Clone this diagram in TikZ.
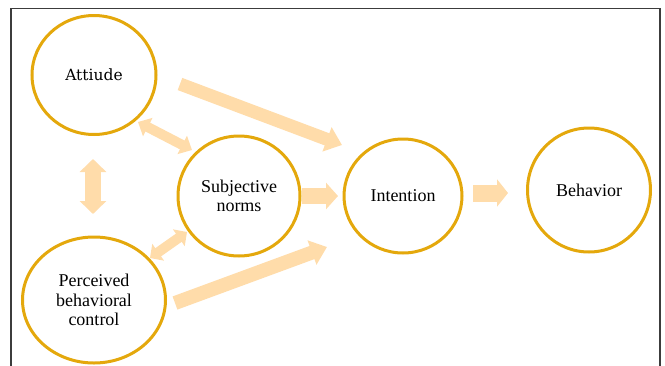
\documentclass[tikz,border=0pt]{standalone}
\usepackage{fontspec}
\setmainfont{Liberation Serif}
\newfontfamily\attfont{DejaVu Serif}
\usetikzlibrary{shapes.geometric,arrows.meta}
\definecolor{ringc}{RGB}{228,168,12}
\definecolor{arrowc}{RGB}{255,220,170}
\definecolor{framec}{RGB}{60,60,60}
\tikzset{
  ring/.style={ellipse, draw=ringc, line width=3pt, fill=white, inner sep=0pt, align=center,
    font=\fontsize{18}{19.5}\selectfont, text=black},
  fat/.style={draw=arrowc, line width=#1},
}
\begin{document}
\begin{tikzpicture}[x=1pt,y=-1pt]
\useasboundingbox (0,0) rectangle (665,365);
% frame
\draw[framec, line width=1.4pt] (11,366) -- (11,8.7) -- (660,8.7) -- (660,366);

% nodes
\node[ring, minimum width=124pt, minimum height=119pt] (att) at (94,75) {\attfont\fontsize{15.5}{18}\selectfont Attiude};
\node[ring, minimum width=122pt, minimum height=120pt] (subj) at (239,196) {Subjective\\norms};
\node[ring, minimum width=118pt, minimum height=114pt] (int) at (403,196) {Intention};
\node[ring, minimum width=123pt, minimum height=124pt] (beh) at (589,190) {Behavior};
\node[ring, minimum width=143pt, minimum height=126pt] (pbc) at (94,300) {Perceived\\behavioral\\control};

% arrow end points
\coordinate (ai1) at (180,84);   \coordinate (ai2) at (342,145);
\coordinate (si1) at (302,196);  \coordinate (si2) at (338,196);
\coordinate (ib1) at (473,193);  \coordinate (ib2) at (508,193);
\coordinate (pi1) at (175,303);  \coordinate (pi2) at (327,247);
\coordinate (as1) at (138,122);  \coordinate (as2) at (192,150);
\coordinate (ps1) at (150,258);  \coordinate (ps2) at (187,232);
\coordinate (ap1) at (93,159);   \coordinate (ap2) at (93,214);

% arrows
\draw[fat=13pt, -{Triangle[length=16pt,width=25pt]}] (ai1) -- (ai2);
\draw[fat=16pt, -{Triangle[length=12pt,width=26pt]}] (si1) -- (si2);
\draw[fat=17pt, -{Triangle[length=11pt,width=27pt]}] (ib1) -- (ib2);
\draw[fat=14pt, -{Triangle[length=16pt,width=25pt]}] (pi1) -- (pi2);
\draw[fat=10pt, {Triangle[length=11pt,width=20pt]}-{Triangle[length=11pt,width=20pt]}] (as1) -- (as2);
\draw[fat=10pt, {Triangle[length=10pt,width=20pt]}-{Triangle[length=10pt,width=20pt]}] (ps1) -- (ps2);
\draw[fat=16pt, {Triangle[length=13pt,width=26pt]}-{Triangle[length=13pt,width=26pt]}] (ap1) -- (ap2);
\end{tikzpicture}
\end{document}
